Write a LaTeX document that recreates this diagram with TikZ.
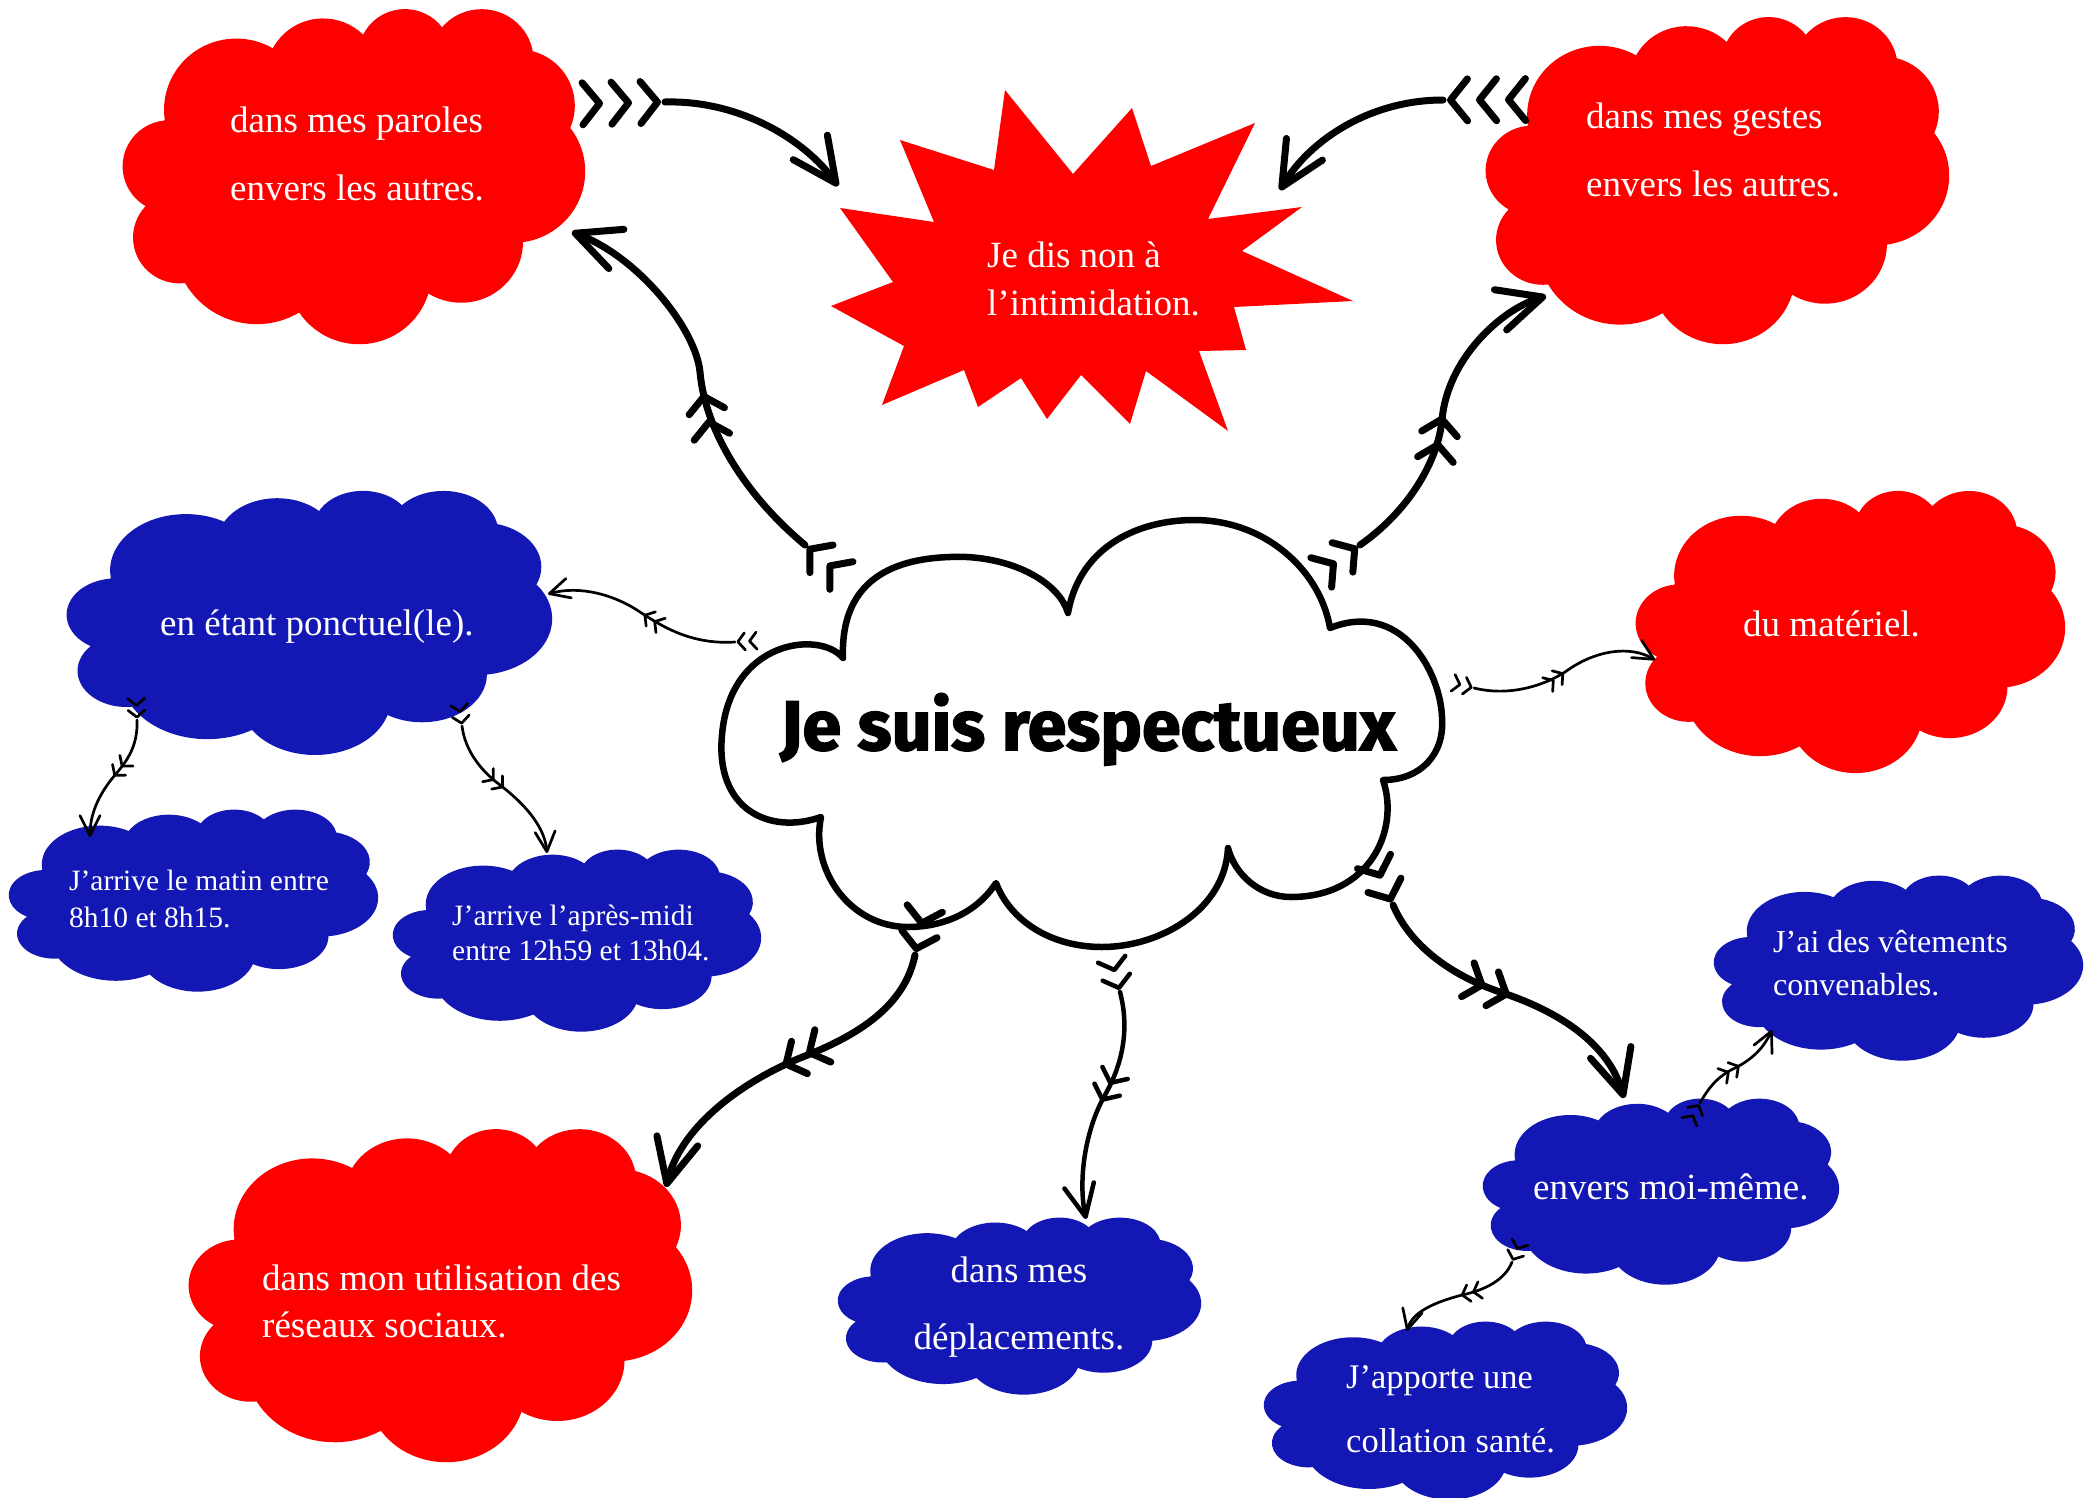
\documentclass[tikz,border=0pt]{standalone}
\usepackage{fontspec}
\setmainfont{Liberation Serif}
\newfontfamily\titlefont{Fira Sans}[BoldFeatures={FakeBold=2.2}]
\usetikzlibrary{arrows.meta,decorations.markings,calc}
\definecolor{cred}{RGB}{255,0,0}
\definecolor{cblue}{RGB}{19,23,179}

% Word-style cloud outline, normalised to a 100 x 100 box
\def\wcloudcmds{}
\foreach \w/\h/\s/\d in {15.632/21.273/-190.488/123.781,12.345/16.822/-144.102/89.945,10.104/13.762/-145.808/99.723,11.243/15.266/-130.986/117.242,12.345/16.836/-78.709/109.027,15.683/21.343/-46.267/130.269,13.391/18.211/0.625/114.033,15.630/21.331/22.452/115.173,17.870/24.405/66.243/75.711,10.093/13.699/-274.942/146.736,10.058/13.762/-246.829/152.519}{%
  \pgfmathsetmacro\cta{atan2(\w*sin(\s),\h*cos(\s))}%
  \pgfmathsetmacro\ctb{atan2(\w*sin(\s+\d),\h*cos(\s+\d))}%
  \pgfmathsetmacro\ctc{\ctb+360*(\ctb<\cta)}%
  \xdef\wcloudcmds{\wcloudcmds arc[start angle=\cta,end angle=\ctc,x radius=\w,y radius=\h]}%
}

\newcommand\wcloud[6]{%
  \pgfmathsetmacro\cldw{(#4-#2)/100}%
  \pgfmathsetmacro\cldh{(#5-#3)/100}%
  \pgfmathsetmacro\cldW{#4-#2}%
  \pgfmathsetmacro\cldH{#5-#3}%
  \node[inner sep=0pt,outer sep=0pt,minimum width=\cldW pt,minimum height=\cldH pt] (#1) at ({(#2+#4)/2},{(#3+#5)/2}) {};
  \begin{scope}[shift={(#2,#3)},x=\cldw pt,y=-\cldh pt]
    \fill[#6] (9.028,33.264) \wcloudcmds -- cycle;
  \end{scope}
}

\tikzset{
  conn/.style={draw=black,line cap=round,line join=round},
  thickc/.style={conn,line width=7pt,-{Straight Barb[length=44pt,width=42pt,round]}},
  medc/.style={conn,line width=4.5pt,-{Straight Barb[length=32pt,width=30pt,round]}},
  thinc/.style={conn,line width=2.7pt,-{Straight Barb[length=20pt,width=20pt,round]}},
  bigchev/.style={postaction={decorate,decoration={markings,mark=at position #1 with {\arrow{Straight Barb[length=15pt,width=36pt,round,sep=4pt] Straight Barb[length=15pt,width=36pt,round,sep=4pt]}}}}},
  bigchevthree/.style={postaction={decorate,decoration={markings,mark=at position #1 with {\arrow{Straight Barb[length=17pt,width=42pt,round,sep=5pt] Straight Barb[length=17pt,width=42pt,round,sep=5pt] Straight Barb[length=17pt,width=42pt,round,sep=5pt]}}}}},
  medchev/.style={postaction={decorate,decoration={markings,mark=at position #1 with {\arrow{Straight Barb[length=11pt,width=28pt,round,sep=3pt] Straight Barb[length=11pt,width=28pt,round,sep=3pt]}}}}},
  smallchev/.style={postaction={decorate,decoration={markings,mark=at position #1 with {\arrow{Straight Barb[length=7pt,width=17pt,round,sep=2pt] Straight Barb[length=7pt,width=17pt,round,sep=2pt]}}}}},
  wt/.style={text=white,anchor=base west,inner sep=0pt,font=\fontsize{37}{44}\selectfont},
  wtc/.style={wt,anchor=base},
  wts/.style={wt,font=\fontsize{29.5}{35}\selectfont},
  wtm/.style={wt,font=\fontsize{32}{38}\selectfont},
  wtl/.style={wt,font=\fontsize{34.5}{40}\selectfont},
}

\begin{document}
\begin{tikzpicture}[x=1pt,y=-1pt]
\useasboundingbox (0,0) rectangle (2086,1497);
\fill[white] (0,0) rectangle (2086,1497);

% ---------- clouds ----------
\wcloud{paroles}{123}{8}{585}{343}{cred}
\wcloud{gestes}{1486}{16}{1949}{343}{cred}
\wcloud{ponct}{67}{490}{552}{754}{cblue}
\wcloud{matin}{9}{809}{378}{991}{cblue}
\wcloud{aprem}{393}{849}{761}{1031}{cblue}
\wcloud{materiel}{1636}{490}{2065}{772}{cred}
\wcloud{reseaux}{189}{1128}{692}{1461}{cred}
\wcloud{deplac}{838}{1217}{1201}{1394}{cblue}
\wcloud{moi}{1483}{1098}{1839}{1284}{cblue}
\wcloud{vetem}{1714}{875}{2083}{1060}{cblue}
\wcloud{collat}{1264}{1321}{1627}{1499}{cblue}

% ---------- starburst ----------
\node[inner sep=0pt,minimum width=520pt,minimum height=340pt] (star) at (1092,261) {};
\fill[cred] (1005,90) -- (1073,174) -- (1132,108) -- (1151,166) -- (1255,123) -- (1208,219) -- (1302,207) -- (1242,251) -- (1353,301) -- (1234,307) -- (1246,350) -- (1199,351) -- (1228,431) -- (1146,371) -- (1130,424) -- (1081,375) -- (1047,419) -- (1021,378) -- (978,407) -- (964,370) -- (882,405) -- (904,346) -- (831,306) -- (893,282) -- (840,208) -- (934,222) -- (900,140) -- (994,170) -- cycle;

% ---------- central cloud ----------
\node[inner sep=0pt,minimum width=726pt,minimum height=435pt] (cen) at (1081,736) {};
\draw[line width=6.5pt,fill=white,line join=round]
  (821,817) .. controls (770,835) and (715,810) .. (722,735)
  .. controls (730,640) and (820,630) .. (843,658)
  .. controls (840,575) and (900,555) .. (967,557)
  .. controls (1020,560) and (1060,585) .. (1068,613)
  .. controls (1080,545) and (1140,520) .. (1194,520)
  .. controls (1265,520) and (1320,570) .. (1330,628)
  .. controls (1400,600) and (1440,670) .. (1442,717)
  .. controls (1445,755) and (1420,780) .. (1383,780)
  .. controls (1400,830) and (1370,897) .. (1291,897)
  .. controls (1260,897) and (1235,875) .. (1228,848)
  .. controls (1225,910) and (1160,947) .. (1102,947)
  .. controls (1050,947) and (1010,920) .. (996,883)
  .. controls (975,915) and (940,927) .. (908,927)
  .. controls (850,927) and (810,870) .. (821,817) -- cycle;
\node[anchor=base,inner sep=0pt,font=\titlefont\bfseries\fontsize{70}{80}\selectfont] (title) at (1088,750) {Je suis respectueux};

% ---------- texts ----------
\node[wt] (tparA) at (230,132) {dans mes paroles};
\node[wt] (tparB) at (230,200) {envers les autres.};
\node[wt] (tstarA) at (987,267) {Je dis non à};
\node[wt] (tstarB) at (987,315) {l’intimidation.};
\node[wt] (tgesA) at (1586,128) {dans mes gestes};
\node[wt] (tgesB) at (1586,196) {envers les autres.};
\node[wt] (tponct) at (160,635) {en étant ponctuel(le).};
\node[wts] (tmatA) at (69,890) {J’arrive le matin entre};
\node[wts] (tmatB) at (69,927) {8h10 et 8h15.};
\node[wts] (tapmA) at (452,925) {J’arrive l’après-midi};
\node[wts] (tapmB) at (452,960) {entre 12h59 et 13h04.};
\node[wt] (tmat) at (1743,636) {du matériel.};
\node[wt] (tresA) at (262,1290) {dans mon utilisation des};
\node[wt] (tresB) at (262,1337) {réseaux sociaux.};
\node[wtc] (tdepA) at (1019,1282) {dans mes};
\node[wtc] (tdepB) at (1019,1349) {déplacements.};
\node[wt] (tmoi) at (1533,1199) {envers moi-même.};
\node[wtm] (tvetA) at (1773,952) {J’ai des vêtements};
\node[wtm] (tvetB) at (1773,995) {convenables.};
\node[wtl] (tcolA) at (1346,1388) {J’apporte une};
\node[wtl] (tcolB) at (1346,1452) {collation santé.};

% ---------- connector end points ----------
\coordinate (c1s) at (665,102);   \coordinate (c1e) at (838,186);
\coordinate (c2s) at (805,545);   \coordinate (c2e) at (572,232);
\coordinate (c3s) at (1443,100);  \coordinate (c3e) at (1280,190);
\coordinate (c4s) at (1360,545);  \coordinate (c4e) at (1546,296);
\coordinate (c5s) at (735,642);   \coordinate (c5e) at (548,594);
\coordinate (c6s) at (1474,688);  \coordinate (c6e) at (1655,660);
\coordinate (c7s) at (915,955);   \coordinate (c7e) at (666,1187);
\coordinate (c8s) at (1120,992);  \coordinate (c8e) at (1086,1219);
\coordinate (c9s) at (1393,905);  \coordinate (c9e) at (1624,1098);
\coordinate (c10s) at (137,720);  \coordinate (c10e) at (90,837);
\coordinate (c11s) at (462,726);  \coordinate (c11e) at (547,853);
\coordinate (c12s) at (1700,1103);\coordinate (c12e) at (1772,1030);
\coordinate (c13s) at (1512,1262);\coordinate (c13e) at (1407,1331);

% ---------- connectors ----------
\draw[thickc,bigchevthree=1pt] (c1s) .. controls (740,100) and (805,140) .. (c1e);
\draw[thickc,bigchev=1pt,bigchev=0.47] (c2s) .. controls (745,495) and (705,430) .. (700,372) .. controls (696,330) and (640,258) .. (c2e);
\draw[thickc,bigchevthree=1pt] (c3s) .. controls (1370,100) and (1310,140) .. (c3e);
\draw[thickc,bigchev=1pt,bigchev=0.5] (c4s) .. controls (1410,510) and (1438,460) .. (1442,420) .. controls (1447,360) and (1500,310) .. (c4e);
\draw[thinc,smallchev=0.5pt,smallchev=0.5] (c5s) .. controls (690,645) and (660,625) .. (640,612) .. controls (615,595) and (580,585) .. (c5e);
\draw[thinc,smallchev=0.5pt,smallchev=0.5] (c6s) .. controls (1510,697) and (1545,685) .. (1565,672) .. controls (1595,650) and (1630,645) .. (c6e);
\draw[thickc,bigchev=1pt,bigchev=0.52] (c7s) .. controls (905,1005) and (860,1035) .. (800,1058) .. controls (735,1085) and (680,1130) .. (c7e);
\draw[medc,medchev=1pt,medchev=0.5] (c8s) .. controls (1130,1030) and (1122,1065) .. (1105,1095) .. controls (1085,1130) and (1078,1180) .. (c8e);
\draw[thickc,bigchev=1pt,bigchev=0.5] (c9s) .. controls (1410,945) and (1450,975) .. (1500,992) .. controls (1570,1015) and (1610,1050) .. (c9e);
\draw[thinc,smallchev=0.5pt,smallchev=0.5] (c10s) .. controls (138,745) and (128,760) .. (115,775) .. controls (98,795) and (90,815) .. (c10e);
\draw[thinc,smallchev=0.5pt,smallchev=0.5] (c11s) .. controls (465,750) and (480,770) .. (500,785) .. controls (530,808) and (545,830) .. (c11e);
\draw[thinc,smallchev=0.5pt,smallchev=0.55] (c12s) .. controls (1710,1085) and (1720,1075) .. (1735,1068) .. controls (1755,1058) and (1765,1045) .. (c12e);
\draw[thinc,smallchev=0.5pt,smallchev=0.5] (c13s) .. controls (1505,1280) and (1485,1290) .. (1462,1295) .. controls (1435,1302) and (1412,1312) .. (c13e);
\end{tikzpicture}
\end{document}
